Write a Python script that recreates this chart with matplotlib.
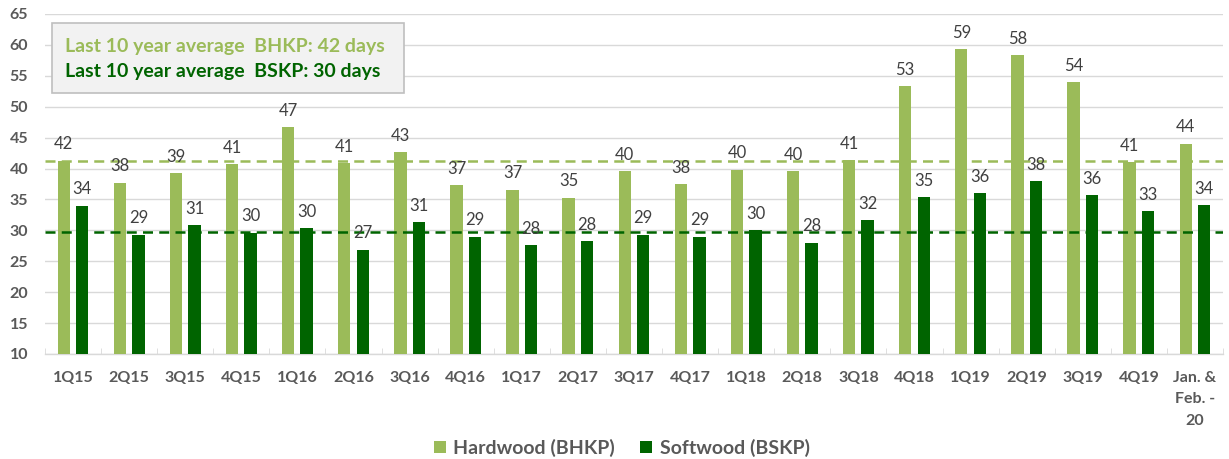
import numpy as np
import matplotlib
matplotlib.use("Agg")
import matplotlib.pyplot as plt
from matplotlib.patches import Rectangle

plt.rcParams['font.family'] = ['Lato', 'DejaVu Sans']

# data
quarters = ['1Q15', '2Q15', '3Q15', '4Q15', '1Q16', '2Q16', '3Q16', '4Q16',
            '1Q17', '2Q17', '3Q17', '4Q17', '1Q18', '2Q18', '3Q18', '4Q18',
            '1Q19', '2Q19', '3Q19', '4Q19', 'Jan. &\nFeb. -\n20']
hardwood = [41.3, 37.7, 39.3, 40.7, 46.7, 40.9, 42.6, 37.3, 36.6, 35.3, 39.6,
            37.5, 39.8, 39.6, 41.4, 53.3, 59.3, 58.3, 54.0, 41.0, 44.0]
softwood = [34.0, 29.3, 30.8, 29.6, 30.4, 26.9, 31.3, 29.0, 27.6, 28.2, 29.3,
            29.0, 30.0, 28.0, 31.7, 35.4, 36.0, 38.0, 35.7, 33.1, 34.1]
hardwood_labels = [42, 38, 39, 41, 47, 41, 43, 37, 37, 35, 40, 38, 40, 40, 41,
                   53, 59, 58, 54, 41, 44]
softwood_labels = [34, 29, 31, 30, 30, 27, 31, 29, 28, 28, 29, 29, 30, 28, 32,
                   35, 36, 38, 36, 33, 34]
avg_bhkp = 41.3
avg_bskp = 29.7
yticks = list(range(10, 70, 5))

hw_color = '#9BBB59'
sw_color = '#006400'
text_gray = '#595959'
grid_gray = '#D9D9D9'

fig = plt.figure(figsize=(12.29, 4.59), dpi=100)
ax = fig.add_axes([0.0366, 0.2288, 0.9585, 0.7407])

x = np.arange(len(quarters))
off = 0.165
w = 0.22
ax.bar(x - off, hardwood, w, bottom=0, color=hw_color, label='Hardwood (BHKP)', zorder=3)
ax.bar(x + off, softwood, w, bottom=0, color=sw_color, label='Softwood (BSKP)', zorder=3)

for xi, v, lab in zip(x, hardwood, hardwood_labels):
    ax.annotate(str(lab), (xi - off, v), xytext=(0, 6), textcoords='offset points',
                ha='center', va='bottom', fontsize=12, color='#404040', zorder=5)
for xi, v, lab in zip(x, softwood, softwood_labels):
    ax.annotate(str(lab), (xi + off, v), xytext=(0, 6), textcoords='offset points',
                ha='center', va='bottom', fontsize=12, color='#404040', zorder=5)

ax.axhline(avg_bhkp, color=hw_color, lw=1.8, ls=(0, (4, 2.5)), zorder=4)
ax.axhline(avg_bskp, color=sw_color, lw=1.8, ls=(0, (4, 2.5)), zorder=4)

ax.set_xlim(-0.5, len(quarters) - 0.5)
ax.set_ylim(10, 65)
ax.set_yticks(yticks)
ax.yaxis.grid(True, color=grid_gray, lw=1, zorder=0)
ax.set_axisbelow(True)

for s in ['top', 'right', 'left']:
    ax.spines[s].set_visible(False)
ax.spines['bottom'].set_color(grid_gray)
ax.spines['bottom'].set_linewidth(1)

ax.set_xticks(x)
ax.set_xticklabels(quarters, fontsize=11.5, fontweight='bold', color=text_gray)
ax.set_xticks(np.arange(-0.5, len(quarters), 1), minor=True)
ax.tick_params(axis='x', which='major', length=0, pad=12)
ax.tick_params(axis='x', which='minor', length=4, direction='in', color=grid_gray)
ax.tick_params(axis='y', length=0, pad=12, labelsize=11.5, labelcolor=text_gray)
for t in ax.get_yticklabels():
    t.set_fontweight('bold')
for t in ax.get_xticklabels():
    t.set_linespacing(1.7)
    t.set_va('top')

# average box
fig.patches.append(Rectangle((0.0423, 0.797), 0.2864, 0.153, transform=fig.transFigure,
                             facecolor='#F2F2F2', edgecolor='#BFBFBF', lw=1.2, zorder=6))
fig.text(0.0529, 0.898, 'Last 10 year average  BHKP: 42 days', color=hw_color,
         fontsize=14, fontweight='bold', va='center', ha='left', zorder=7)
fig.text(0.0529, 0.845, 'Last 10 year average  BSKP: 30 days', color=sw_color,
         fontsize=14, fontweight='bold', va='center', ha='left', zorder=7)

leg = fig.legend(loc='center', bbox_to_anchor=(0.506, 0.024), ncol=2, frameon=False,
                 handlelength=0.6, handleheight=0.6, handletextpad=0.4, columnspacing=1.3,
                 prop={'size': 14, 'weight': 'bold'})
for t in leg.get_texts():
    t.set_color(text_gray)

fig.savefig('out.png', dpi=100)
